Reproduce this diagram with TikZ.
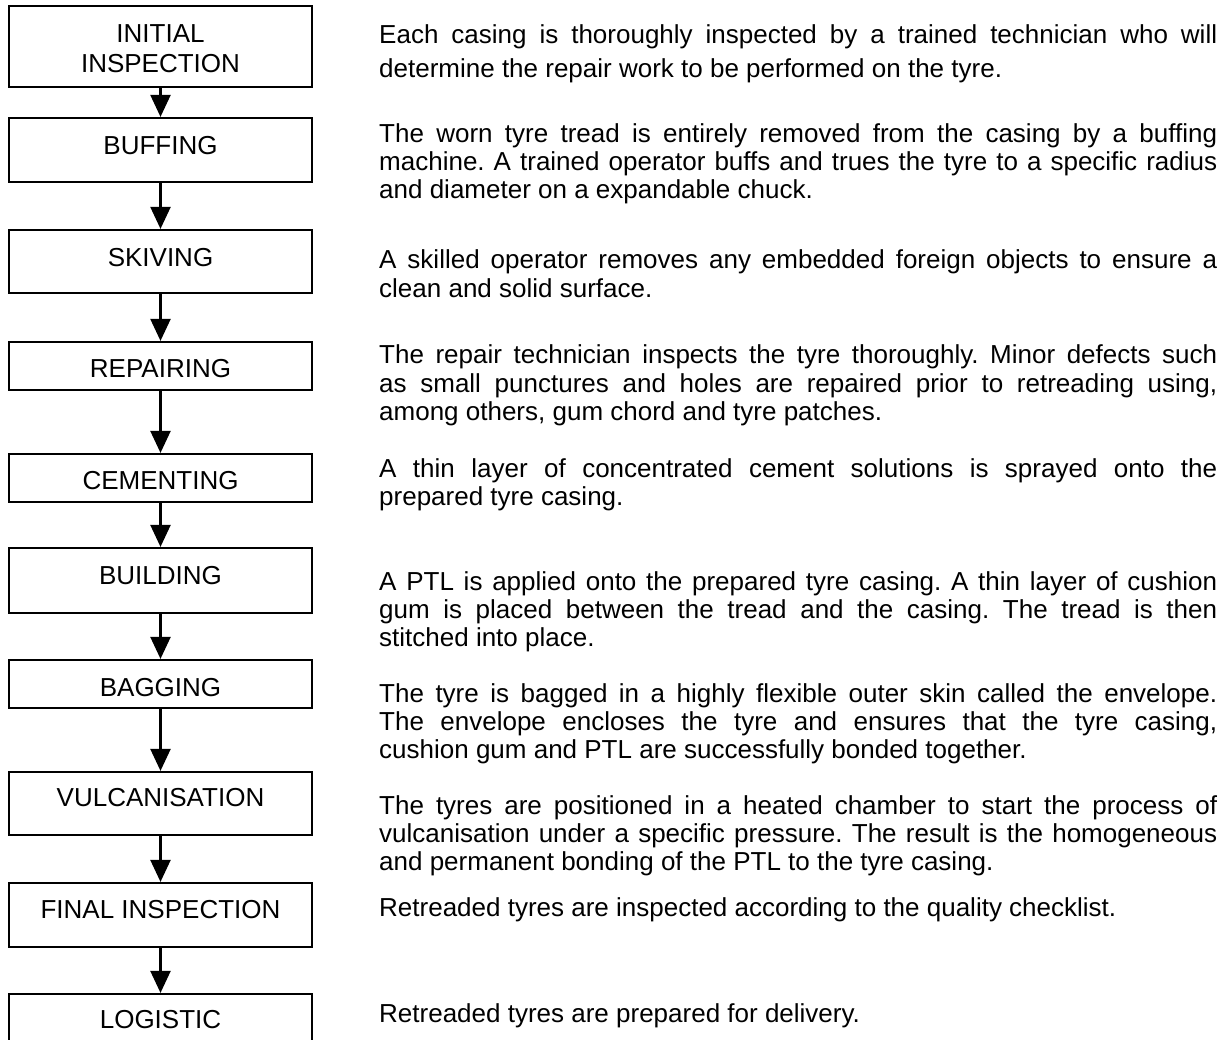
\documentclass[tikz,border=0pt]{standalone}
\usepackage{fontspec}
\setmainfont{Liberation Sans}
\usetikzlibrary{arrows.meta}
\newcommand\jline[1]{\makebox[838pt][s]{#1}}
\tikzset{
  boxst/.style={draw, line width=2.2pt, minimum width=303pt, inner sep=0pt},
  lab/.style={font=\fontsize{26}{30}\selectfont, anchor=base, inner sep=0pt},
  txt/.style={font=\fontsize{26}{28}\selectfont\frenchspacing, anchor=base west, inner sep=0pt},
  flow/.style={line width=2.2pt, -{Triangle[width=20pt,length=22pt]}},
}
\begin{document}
\begin{tikzpicture}[x=1pt,y=-1pt]
\useasboundingbox (0,0) rectangle (1231,1039);
% boxes
\node[boxst, minimum height=81pt] (b1) at (160.5,46.5) {};
\node[boxst, minimum height=64pt] (b2) at (160.5,150) {};
\node[boxst, minimum height=63pt] (b3) at (160.5,261.5) {};
\node[boxst, minimum height=48pt] (b4) at (160.5,366) {};
\node[boxst, minimum height=48pt] (b5) at (160.5,478) {};
\node[boxst, minimum height=65pt] (b6) at (160.5,580.5) {};
\node[boxst, minimum height=48pt] (b7) at (160.5,684) {};
\node[boxst, minimum height=63pt] (b8) at (160.5,803.5) {};
\node[boxst, minimum height=64pt] (b9) at (160.5,915) {};
\node[boxst, minimum height=60pt] (b10) at (160.5,1024) {};
% labels
\node[lab] (l1a) at (160.5,42) {INITIAL};
\node[lab] (l1b) at (160.5,72) {INSPECTION};
\node[lab] (l2) at (160.5,154) {BUFFING};
\node[lab] (l3) at (160.5,266) {SKIVING};
\node[lab] (l4) at (160.5,377) {REPAIRING};
\node[lab] (l5) at (160.5,489) {CEMENTING};
\node[lab] (l6) at (160.5,584) {BUILDING};
\node[lab] (l7) at (160.5,696) {BAGGING};
\node[lab] (l8) at (160.5,806) {VULCANISATION};
\node[lab] (l9) at (160.5,918) {FINAL INSPECTION};
\node[lab] (l10) at (160.5,1028) {LOGISTIC};
% arrows
\draw[flow] (b1.south) -- (b2.north);
\draw[flow] (b2.south) -- (b3.north);
\draw[flow] (b3.south) -- (b4.north);
\draw[flow] (b4.south) -- (b5.north);
\draw[flow] (b5.south) -- (b6.north);
\draw[flow] (b6.south) -- (b7.north);
\draw[flow] (b7.south) -- (b8.north);
\draw[flow] (b8.south) -- (b9.north);
\draw[flow] (b9.south) -- (b10.north);
% descriptions
\node[txt] (t1a) at (379,43) {\jline{Each casing is thoroughly inspected by a trained technician who will}};
\node[txt] (t1b) at (379,77) {determine the repair work to be performed on the tyre.};
\node[txt] (t2a) at (379,142) {\jline{The worn tyre tread is entirely removed from the casing by a buffing}};
\node[txt] (t2b) at (379,170) {\jline{machine. A trained operator buffs and trues the tyre to a specific radius}};
\node[txt] (t2c) at (379,198) {and diameter on a expandable chuck.};
\node[txt] (t3a) at (379,268) {\jline{A skilled operator removes any embedded foreign objects to ensure a}};
\node[txt] (t3b) at (379,297) {clean and solid surface.};
\node[txt] (t4a) at (379,363) {\jline{The repair technician inspects the tyre thoroughly. Minor defects such}};
\node[txt] (t4b) at (379,392) {\jline{as small punctures and holes are repaired prior to retreading using,}};
\node[txt] (t4c) at (379,420) {among others, gum chord and tyre patches.};
\node[txt] (t5a) at (379,477) {\jline{A thin layer of concentrated cement solutions is sprayed onto the}};
\node[txt] (t5b) at (379,505) {prepared tyre casing.};
\node[txt] (t6a) at (379,590) {\jline{A PTL is applied onto the prepared tyre casing. A thin layer of cushion}};
\node[txt] (t6b) at (379,618) {\jline{gum is placed between the tread and the casing. The tread is then}};
\node[txt] (t6c) at (379,646) {stitched into place.};
\node[txt] (t7a) at (379,702) {\jline{The tyre is bagged in a highly flexible outer skin called the envelope.}};
\node[txt] (t7b) at (379,730) {\jline{The envelope encloses the tyre and ensures that the tyre casing,}};
\node[txt] (t7c) at (379,758) {cushion gum and PTL are successfully bonded together.};
\node[txt] (t8a) at (379,814) {\jline{The tyres are positioned in a heated chamber to start the process of}};
\node[txt] (t8b) at (379,842) {\jline{vulcanisation under a specific pressure. The result is the homogeneous}};
\node[txt] (t8c) at (379,870) {and permanent bonding of the PTL to the tyre casing.};
\node[txt] (t9) at (379,916) {Retreaded tyres are inspected according to the quality checklist.};
\node[txt] (t10) at (379,1022) {Retreaded tyres are prepared for delivery.};
\end{tikzpicture}
\end{document}
